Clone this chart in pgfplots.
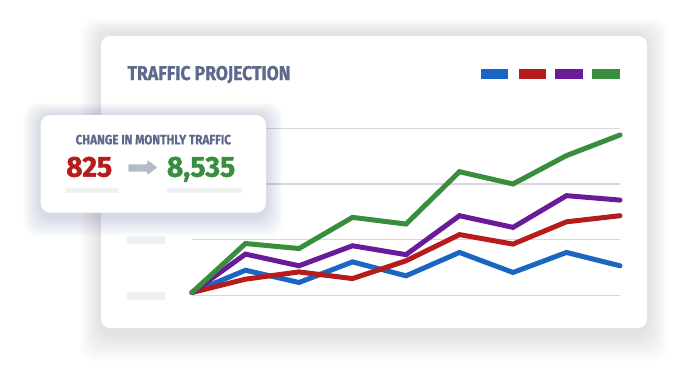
\documentclass[border=0pt]{standalone}
\usepackage{pgfplots}
\pgfplotsset{compat=1.18}
\usepackage{fontspec}
\setmainfont{Fira Sans}
\newfontfamily\condfont[FakeStretch=0.88, FakeBold=0.9]{Fira Sans}
\newfontfamily\labfont[FakeStretch=0.87, FakeBold=0.7]{Fira Sans}
\newfontfamily\numfont[FakeStretch=0.98, FakeBold=1.4]{Fira Sans}
\definecolor{cblue}{HTML}{1A66C2}
\definecolor{cred}{HTML}{B71C1C}
\definecolor{cpurple}{HTML}{6A1B9A}
\definecolor{cgreen}{HTML}{388E3C}
\definecolor{slate}{HTML}{5E6A8C}
\definecolor{gridc}{HTML}{D8D8DC}
\definecolor{placeh}{HTML}{F0F0F2}
\definecolor{arrowc}{HTML}{B4BBC6}
\definecolor{shadowc}{HTML}{5A6A95}
\begin{document}
\begin{tikzpicture}[x=1bp,y=1bp]
\useasboundingbox (0,0) rectangle (689,374);
\fill[white] (0,0) rectangle (689,374);
% main card shadow
\foreach \i in {1,...,14}{
  \fill[shadowc, opacity=0.013, rounded corners=14] (101-\i*1.5, 40-\i*1.9) rectangle (647+\i*1.5, 340+\i*1.1);
}
\fill[white, rounded corners=9] (101,46) rectangle (647,338);
% title
\node[anchor=base west, inner sep=0, text=slate] at (127.4,294) {\condfont\bfseries\fontsize{20}{20}\selectfont TRAFFIC PROJECTION};
% legend swatches
\fill[cblue] (481,295.3) rectangle (508.4,305);
\fill[cred] (518.5,295.3) rectangle (545.7,305);
\fill[cpurple] (555.4,295.3) rectangle (583,305);
\fill[cgreen] (592.3,295.3) rectangle (620,305);
% y tick placeholders
\fill[placeh] (127.4,129.7) rectangle (164.8,138);
\fill[placeh] (127.4,74) rectangle (164.8,82.3);
\begin{axis}[at={(192bp,78.7bp)}, anchor=origin, scale only axis,
  width=428bp, height=167bp,
  xmin=0, xmax=8, ymin=0, ymax=3,
  xtick=\empty, ytick={0,1,2,3}, yticklabels={},
  ymajorgrids, grid style={draw=gridc, line width=1.1bp},
  axis line style={draw=none}, major tick length=0pt, clip=false,
  every axis plot/.append style={line width=5bp, line cap=round, mark=none}]
\addplot[cblue] coordinates {(0,0.05) (1,0.45) (2,0.23) (3,0.60) (4,0.35) (5,0.77) (6,0.41) (7,0.77) (8,0.53)};
\addplot[cred] coordinates {(0,0.05) (1,0.29) (2,0.42) (3,0.30) (4,0.62) (5,1.09) (6,0.92) (7,1.32) (8,1.43)};
\addplot[cpurple] coordinates {(0,0.05) (1,0.74) (2,0.53) (3,0.89) (4,0.73) (5,1.43) (6,1.22) (7,1.79) (8,1.71)};
\addplot[cgreen] coordinates {(0,0.05) (1,0.93) (2,0.84) (3,1.40) (4,1.28) (5,2.22) (6,2.00) (7,2.51) (8,2.88)};
\end{axis}
% inset card shadow
\foreach \i in {1,...,12}{
  \fill[shadowc, opacity=0.018, rounded corners=14] (40.5-\i*1.4, 157-\i*1.6) rectangle (266+\i*1.4, 259+\i*1.0);
}
\fill[white, rounded corners=10] (40.5,161.3) rectangle (266,259);
\node[anchor=base, inner sep=0, text=slate] at (153.3,229.7) {\labfont\bfseries\fontsize{13.5}{13.5}\selectfont CHANGE IN MONTHLY TRAFFIC};
\node[anchor=base west, inner sep=0, text=cred] at (66,197.3) {\numfont\bfseries\fontsize{29}{29}\selectfont 825};
\node[anchor=base west, inner sep=0, text=cgreen] at (166.7,197.3) {\numfont\bfseries\fontsize{29}{29}\selectfont 8,535};
\fill[arrowc, rounded corners=1] (128.3,202.3) -- (147.3,202.3) -- (147.3,199) -- (157.3,206.5) -- (147.3,214) -- (147.3,209.7) -- (128.3,209.7) -- cycle;
\fill[placeh] (65,180.7) rectangle (118.7,186.3);
\fill[placeh] (166.7,180.7) rectangle (242,186.3);
\end{tikzpicture}
\end{document}
